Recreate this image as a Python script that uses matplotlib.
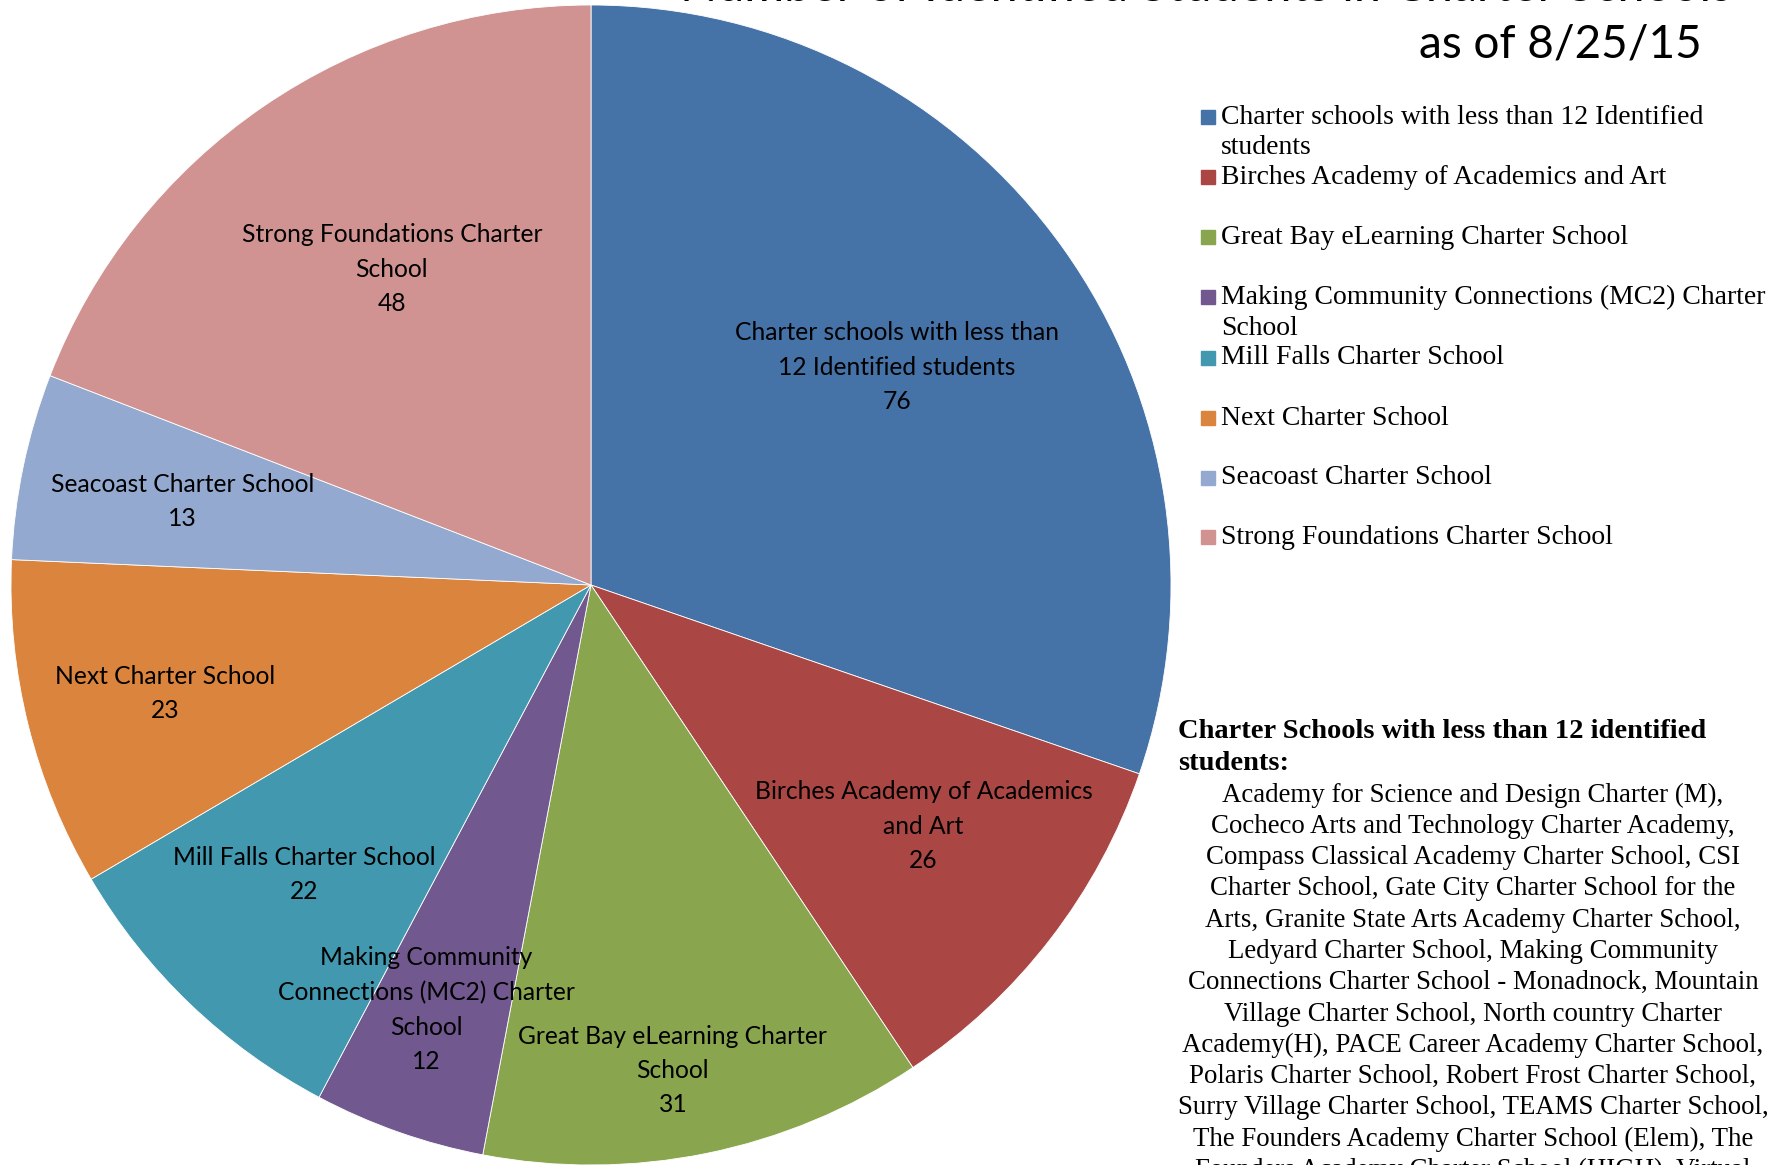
import numpy as np
import matplotlib
matplotlib.use("Agg")
import matplotlib.pyplot as plt

# data
schools = [
    "Charter schools with less than 12 Identified students",
    "Birches Academy of Academics and Art",
    "Great Bay eLearning Charter School",
    "Making Community Connections (MC2) Charter School",
    "Mill Falls Charter School",
    "Next Charter School",
    "Seacoast Charter School",
    "Strong Foundations Charter School",
]
students = [76, 26, 31, 12, 22, 23, 13, 48]

# wrapped text as in the chart
pie_names = [
    "Charter schools with less than\n12 Identified students",
    "Birches Academy of Academics\nand Art",
    "Great Bay eLearning Charter\nSchool",
    "Making Community\nConnections (MC2) Charter\nSchool",
    "Mill Falls Charter School",
    "Next Charter School",
    "Seacoast Charter School",
    "Strong Foundations Charter\nSchool",
]
legend_names = [
    "Charter schools with less than 12 Identified\nstudents",
    "Birches Academy of Academics and Art",
    "Great Bay eLearning Charter School",
    "Making Community Connections (MC2) Charter\nSchool",
    "Mill Falls Charter School",
    "Next Charter School",
    "Seacoast Charter School",
    "Strong Foundations Charter School",
]
small_schools_head = "Charter Schools with less than 12 identified\nstudents:"
small_schools = [
    "Academy for Science and Design Charter (M),",
    "Cocheco Arts and Technology Charter Academy,",
    "Compass Classical Academy Charter School, CSI",
    "Charter School, Gate City Charter School for the",
    "Arts, Granite State Arts Academy Charter School,",
    "Ledyard Charter School, Making Community",
    "Connections Charter School - Monadnock, Mountain",
    "Village Charter School, North country Charter",
    "Academy(H), PACE Career Academy Charter School,",
    "Polaris Charter School, Robert Frost Charter School,",
    "Surry Village Charter School, TEAMS Charter School,",
    "The Founders Academy Charter School (Elem), The",
    "Founders Academy Charter School (HIGH), Virtual",
    "Learning Academy Charter School",
]

colors = ["#4572A7", "#AA4643", "#89A54E", "#71588F",
          "#4198AF", "#DB843D", "#93A9CF", "#D19392"]
# where each data label sits: fraction of radius, nudge off the mid angle
label_dist = [0.647, 0.708, 0.849, 0.785, 0.703, 0.757, 0.719, 0.644]
label_nudge = [0, 1.7, -1.9, -1.8, -1.0, 0.3, 0.3, -2.2]

W, H = 1781, 1165
fig = plt.figure(figsize=(W / 100, H / 100), dpi=100)


def px(x, y):
    return x / W, 1 - y / H


sans = ["Lato", "DejaVu Sans"]
serif = ["Liberation Serif", "DejaVu Serif"]

# pie: centre (591, 585), radius 580 px
ax = fig.add_axes([11 / W, 0, 1160 / W, 1160 / H])
wedges, _ = ax.pie(students, colors=colors, startangle=90, counterclock=False,
                   radius=1, wedgeprops=dict(edgecolor="white", linewidth=0.6))
ax.set_xlim(-1, 1)
ax.set_ylim(-1, 1)
ax.set_aspect("equal")
ax.axis("off")

for w, name, v, d, n in zip(wedges, pie_names, students, label_dist, label_nudge):
    mid = np.deg2rad((w.theta1 + w.theta2) / 2 + n)
    ax.text(d * np.cos(mid), d * np.sin(mid), f"{name}\n{v}", ha="center",
            va="center", fontsize=17.7, family=sans, linespacing=1.6)

# title (top line is cut off in the reference)
fig.text(*px(1206, 1), "Number of Identified Students in Charter Schools",
         ha="center", va="baseline", fontsize=35, family=sans)
fig.text(*px(1702, 57), "as of 8/25/15", ha="right", va="baseline",
         fontsize=33, family=sans)

# legend
row_y = [117, 177, 237, 297, 358, 418, 478, 537]
for name, c, y in zip(legend_names, colors, row_y):
    fig.patches.append(plt.Rectangle(px(1201, y + 7), 14 / W, 14 / H,
                                     transform=fig.transFigure,
                                     color=c, figure=fig))
    for j, line in enumerate(name.split("\n")):
        fig.text(*px(1221, y + j * 31), line, ha="left", va="center",
                 fontsize=20, family=serif)

# note box
for j, line in enumerate(small_schools_head.split("\n")):
    fig.text(*px(1178, 732 + j * 31), line, ha="left", va="center",
             fontsize=20.5, family=serif, fontweight="bold")
for j, line in enumerate(small_schools):
    fig.text(*px(1473, 795 + j * 31.3), line, ha="center", va="center",
             fontsize=19.4, family=serif)

fig.savefig("out.png", dpi=100)
